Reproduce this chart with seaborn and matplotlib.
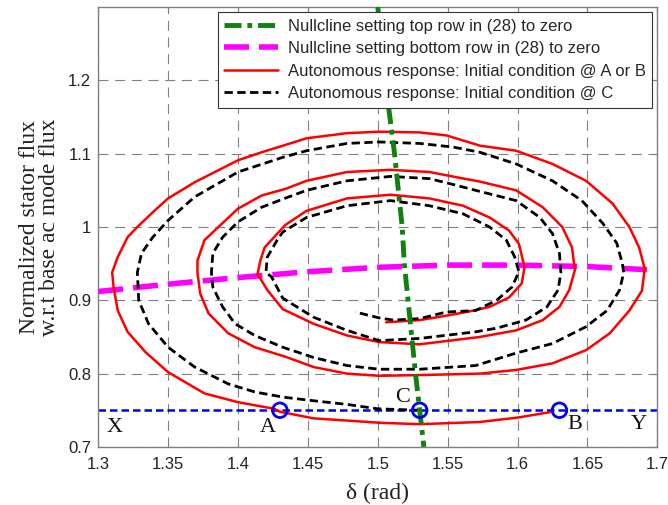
import matplotlib
matplotlib.use('Agg')
import matplotlib.pyplot as plt
import numpy as np
import pandas as pd
import seaborn as sns

# ── Data ──────────────────────────────────────────────────────────────────────
# nullcline: top row of (28) = 0
green_x = [1.500, 1.508, 1.512, 1.5175, 1.519, 1.523, 1.527, 1.530, 1.533]
green_y = [1.300, 1.160, 1.100, 1.000, 0.950, 0.875, 0.800, 0.750, 0.700]

# nullcline: bottom row of (28) = 0
mag_x = [1.30, 1.35, 1.40, 1.45, 1.50, 1.55, 1.60, 1.65, 1.70]
mag_y = [0.912, 0.922, 0.931, 0.939, 0.945, 0.948, 0.948, 0.946, 0.941]

# autonomous response from B (passes through A)
red_x = [1.625, 1.600, 1.573, 1.530, 1.501, 1.454, 1.430, 1.426, 1.400, 1.376,
         1.350, 1.334, 1.321, 1.314, 1.311, 1.310, 1.314, 1.321, 1.328, 1.339,
         1.350, 1.369, 1.400, 1.417, 1.434, 1.449, 1.478, 1.501, 1.530, 1.549,
         1.573, 1.599, 1.625, 1.649, 1.668, 1.680, 1.687, 1.691, 1.689, 1.680,
         1.666, 1.649, 1.625, 1.599, 1.573, 1.530, 1.501, 1.478, 1.454, 1.434,
         1.412, 1.393, 1.379, 1.373, 1.371, 1.371, 1.376, 1.386, 1.400, 1.417,
         1.434, 1.449, 1.478, 1.509, 1.537, 1.556, 1.573, 1.599, 1.618, 1.632,
         1.639, 1.641, 1.637, 1.630, 1.618, 1.599, 1.573, 1.530, 1.501, 1.478,
         1.454, 1.432, 1.421, 1.414, 1.416, 1.419, 1.434, 1.449, 1.478, 1.509,
         1.537, 1.561, 1.580, 1.594, 1.601, 1.605, 1.603, 1.594, 1.580, 1.566,
         1.549, 1.530, 1.506]
red_y = [0.748, 0.740, 0.734, 0.731, 0.733, 0.739, 0.748, 0.752, 0.761, 0.773,
         0.802, 0.829, 0.857, 0.886, 0.918, 0.938, 0.959, 0.986, 1.000, 1.020,
         1.039, 1.061, 1.091, 1.102, 1.112, 1.121, 1.128, 1.130, 1.129, 1.125,
         1.111, 1.104, 1.086, 1.063, 1.032, 1.000, 0.972, 0.943, 0.913, 0.886,
         0.855, 0.832, 0.814, 0.805, 0.800, 0.798, 0.797, 0.800, 0.809, 0.823,
         0.836, 0.855, 0.882, 0.909, 0.938, 0.954, 0.982, 1.000, 1.025, 1.043,
         1.052, 1.063, 1.075, 1.078, 1.075, 1.068, 1.062, 1.050, 1.027, 1.000,
         0.972, 0.941, 0.914, 0.891, 0.873, 0.859, 0.850, 0.840, 0.843, 0.852,
         0.868, 0.888, 0.914, 0.936, 0.954, 0.972, 1.003, 1.022, 1.039, 1.044,
         1.039, 1.029, 1.013, 0.995, 0.977, 0.945, 0.923, 0.904, 0.891, 0.885,
         0.879, 0.873, 0.870]

# autonomous response from C
blk_x = [1.530, 1.500, 1.478, 1.454, 1.432, 1.412, 1.393, 1.369, 1.350, 1.336,
         1.329, 1.328, 1.331, 1.339, 1.350, 1.369, 1.400, 1.432, 1.449, 1.478,
         1.501, 1.530, 1.554, 1.573, 1.599, 1.625, 1.646, 1.661, 1.671, 1.675,
         1.676, 1.673, 1.664, 1.649, 1.625, 1.599, 1.570, 1.530, 1.501, 1.478,
         1.454, 1.432, 1.412, 1.398, 1.389, 1.382, 1.381, 1.382, 1.389, 1.400,
         1.417, 1.432, 1.449, 1.478, 1.509, 1.537, 1.556, 1.570, 1.599, 1.616,
         1.625, 1.630, 1.631, 1.629, 1.621, 1.606, 1.585, 1.570, 1.530, 1.501,
         1.478, 1.454, 1.432, 1.424, 1.420, 1.421, 1.428, 1.432, 1.449, 1.478,
         1.509, 1.537, 1.561, 1.580, 1.592, 1.598, 1.601, 1.596, 1.585, 1.570,
         1.549, 1.530, 1.511, 1.501, 1.484]
blk_y = [0.750, 0.752, 0.758, 0.763, 0.768, 0.775, 0.786, 0.809, 0.836, 0.868,
         0.900, 0.938, 0.964, 0.986, 1.009, 1.041, 1.075, 1.095, 1.104, 1.114,
         1.116, 1.114, 1.109, 1.102, 1.086, 1.063, 1.036, 1.005, 0.978, 0.950,
         0.938, 0.914, 0.886, 0.864, 0.841, 0.828, 0.811, 0.806, 0.806, 0.811,
         0.822, 0.836, 0.852, 0.868, 0.891, 0.918, 0.938, 0.964, 0.986, 1.007,
         1.027, 1.038, 1.050, 1.063, 1.069, 1.066, 1.057, 1.050, 1.036, 1.013,
         0.991, 0.964, 0.938, 0.914, 0.891, 0.873, 0.862, 0.857, 0.848, 0.845,
         0.859, 0.877, 0.903, 0.932, 0.938, 0.959, 0.982, 0.993, 1.013, 1.029,
         1.036, 1.029, 1.018, 1.000, 0.982, 0.959, 0.939, 0.918, 0.900, 0.886,
         0.884, 0.875, 0.873, 0.876, 0.884]

# operating line and initial-condition points
line_x = [1.30, 1.70]
line_y = [0.75, 0.75]
pts_x = [1.43, 1.53, 1.63]
pts_y = [0.75, 0.75, 0.75]

point_labels = ['X', 'A', 'C', 'B', 'Y']
label_x = [1.3115, 1.4215, 1.518, 1.641, 1.687]
label_y = [0.726, 0.726, 0.768, 0.730, 0.730]

xticks = [1.3, 1.35, 1.4, 1.45, 1.5, 1.55, 1.6, 1.65, 1.7]
yticks = [0.7, 0.8, 0.9, 1.0, 1.1, 1.2]

legend_labels = [
    'Nullcline setting top row in (28) to zero',
    'Nullcline setting bottom row in (28) to zero',
    'Autonomous response: Initial condition @ A or B',
    'Autonomous response: Initial condition @ C',
]

# ── Style ─────────────────────────────────────────────────────────────────────
sns.set_theme(style='white')
plt.rcParams.update({
    'font.family': ['Liberation Sans', 'DejaVu Sans'],
    'axes.edgecolor': '#808080',
    'axes.linewidth': 1.0,
    'xtick.direction': 'in',
    'ytick.direction': 'in',
    'xtick.color': '#808080',
    'ytick.color': '#808080',
    'xtick.labelcolor': '#222222',
    'ytick.labelcolor': '#222222',
})
SERIF = ['Liberation Serif', 'DejaVu Serif']

fig = plt.figure(figsize=(6.68, 5.05), dpi=100)
ax = fig.add_axes([0.147, 0.115, 0.837, 0.871])

sns.lineplot(x=green_x, y=green_y, sort=False, estimator=None, ax=ax,
             color='#108010', lw=3.5, linestyle=(0, (3.5, 1.2, 1, 1.2)),
             label=legend_labels[0], zorder=4)
sns.lineplot(x=mag_x, y=mag_y, sort=False, estimator=None, ax=ax,
             color='#ff00ff', lw=4, linestyle=(0, (4.5, 1.8)),
             label=legend_labels[1], zorder=3)
sns.lineplot(x=red_x, y=red_y, sort=False, estimator=None, ax=ax,
             color='#ff0000', lw=1.8, label=legend_labels[2], zorder=3)
sns.lineplot(x=blk_x, y=blk_y, sort=False, estimator=None, ax=ax,
             color='black', lw=2.0, linestyle=(0, (3, 1.6)),
             label=legend_labels[3], zorder=3)
sns.lineplot(x=line_x, y=line_y, sort=False, estimator=None, ax=ax,
             color='#0000ee', lw=1.8, linestyle=(0, (3, 1.6)), zorder=2)
sns.scatterplot(x=pts_x, y=pts_y, ax=ax, s=110, facecolor='none',
                edgecolor='#0000ee', linewidth=2, zorder=5)

for t, lx, ly in zip(point_labels, label_x, label_y):
    ax.text(lx, ly, t, family=SERIF, fontsize=16, ha='center', va='center',
            color='#111111')

ax.set_xlim(1.3, 1.7)
ax.set_ylim(0.7, 1.3)
ax.set_xticks(xticks)
ax.set_xticklabels([f'{v:g}' for v in xticks])
ax.set_yticks(yticks)
ax.set_yticklabels([f'{v:g}' for v in yticks])
ax.tick_params(labelsize=12, length=4, width=0.8, top=True, right=True)
ax.tick_params(axis='x', pad=7)
ax.tick_params(axis='y', pad=5)
ax.grid(True, color='#808080', lw=0.8, linestyle=(0, (9, 6)))
ax.set_axisbelow(True)

ax.set_xlabel('δ (rad)', family=SERIF, fontsize=17, color='#222222', labelpad=8)
ax.set_ylabel('Normalized stator flux\nw.r.t base ac mode flux', family=SERIF,
              fontsize=17, color='#222222', labelpad=6, linespacing=0.95)

leg = ax.legend(loc='upper right', fontsize=12, frameon=True, fancybox=False,
                framealpha=1, edgecolor='#333333', borderaxespad=0.3,
                handlelength=3.2, handletextpad=0.6, labelspacing=0.45,
                borderpad=0.4)
leg.get_frame().set_linewidth(0.8)
leg.set_zorder(10)

fig.savefig('out.png', dpi=100)
